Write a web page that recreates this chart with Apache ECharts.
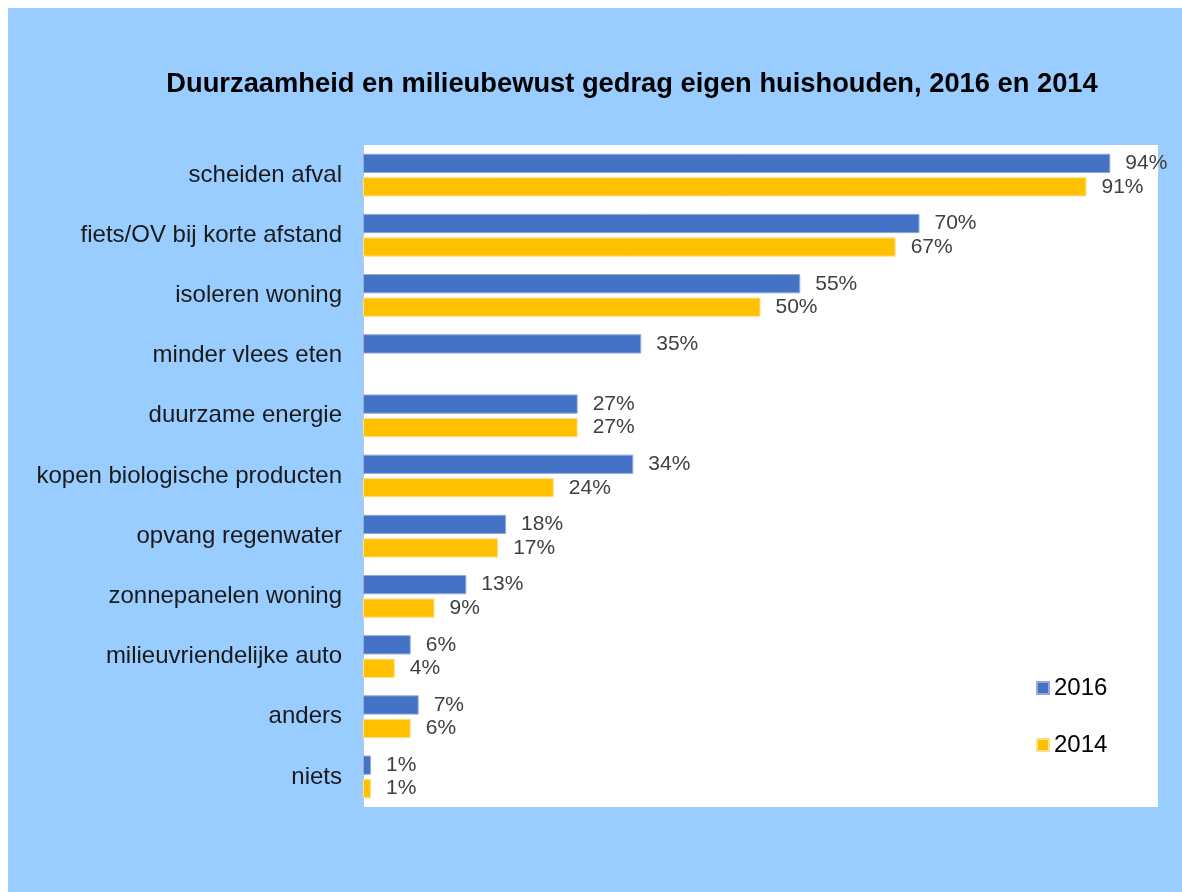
<!DOCTYPE html>
<html>
<head>
<meta charset="utf-8">
<script src="https://cdn.jsdelivr.net/npm/echarts@6/dist/echarts.min.js"></script>
<style>
html,body{margin:0;padding:0;background:#fff;}
#chart{width:1182px;height:892px;}
</style>
</head>
<body>
<div id="chart"></div>
<script>
const titleText = 'Duurzaamheid en milieubewust gedrag eigen huishouden, 2016 en 2014';
const categories = [
  'scheiden afval',
  'fiets/OV bij korte afstand',
  'isoleren woning',
  'minder vlees eten',
  'duurzame energie',
  'kopen biologische producten',
  'opvang regenwater',
  'zonnepanelen woning',
  'milieuvriendelijke auto',
  'anders',
  'niets'
];
const seriesNames = ['2016', '2014'];
const values2016 = [94, 70, 55, 35, 27, 34, 18, 13, 6, 7, 1];
const values2014 = [91, 67, 50, null, 27, 24, 17, 9, 4, 6, 1];

const FONT = '"Liberation Sans", Arial, sans-serif';
const chart = echarts.init(document.getElementById('chart'), null, {renderer: 'canvas'});

const labelOpt = {
  show: true,
  position: 'right',
  distance: 15,
  fontFamily: FONT,
  fontSize: 21,
  color: '#404040',
  formatter: p => (p.value == null ? '' : p.value + '%')
};

chart.setOption({
  backgroundColor: '#ffffff',
  animation: false,
  graphic: [{
    type: 'rect',
    z: -10,
    shape: {x: 8, y: 8, width: 1182, height: 892},
    style: {fill: '#99CCFF'}
  }],
  title: {
    text: titleText,
    left: 627,
    top: 66,
    textAlign: 'center',
    textStyle: {fontFamily: FONT, fontSize: 27.3, fontWeight: 'bold', color: '#000000'}
  },
  legend: {
    orient: 'vertical',
    left: 1036,
    top: 676,
    padding: 0,
    itemWidth: 12,
    itemHeight: 12,
    itemGap: 33,
    icon: 'rect',
    data: seriesNames,
    textStyle: {fontFamily: FONT, fontSize: 24, color: '#000000', padding: [0, 0, 0, 0]}
  },
  grid: {
    left: 363,
    right: 24,
    top: 145,
    bottom: 85,
    show: true,
    backgroundColor: '#ffffff',
    borderWidth: 0,
    containLabel: false
  },
  xAxis: {
    type: 'value',
    min: 0,
    max: 100,
    show: false
  },
  yAxis: {
    type: 'category',
    inverse: true,
    data: categories,
    axisLine: {show: true, lineStyle: {color: '#A9CBEF', width: 2}},
    axisTick: {show: false},
    axisLabel: {
      fontFamily: FONT,
      fontSize: 24,
      color: '#1a1a1a',
      margin: 21
    }
  },
  series: [
    {
      name: seriesNames[0],
      type: 'bar',
      data: values2016,
      barCategoryGap: '29%',
      barGap: '22%',
      itemStyle: {color: '#4472C4', borderColor: '#8FAADC', borderWidth: 1},
      label: labelOpt
    },
    {
      name: seriesNames[1],
      type: 'bar',
      data: values2014,
      barCategoryGap: '29%',
      barGap: '22%',
      itemStyle: {color: '#FFC000', borderColor: '#FFE08A', borderWidth: 1},
      label: labelOpt
    }
  ]
});
</script>
</body>
</html>
